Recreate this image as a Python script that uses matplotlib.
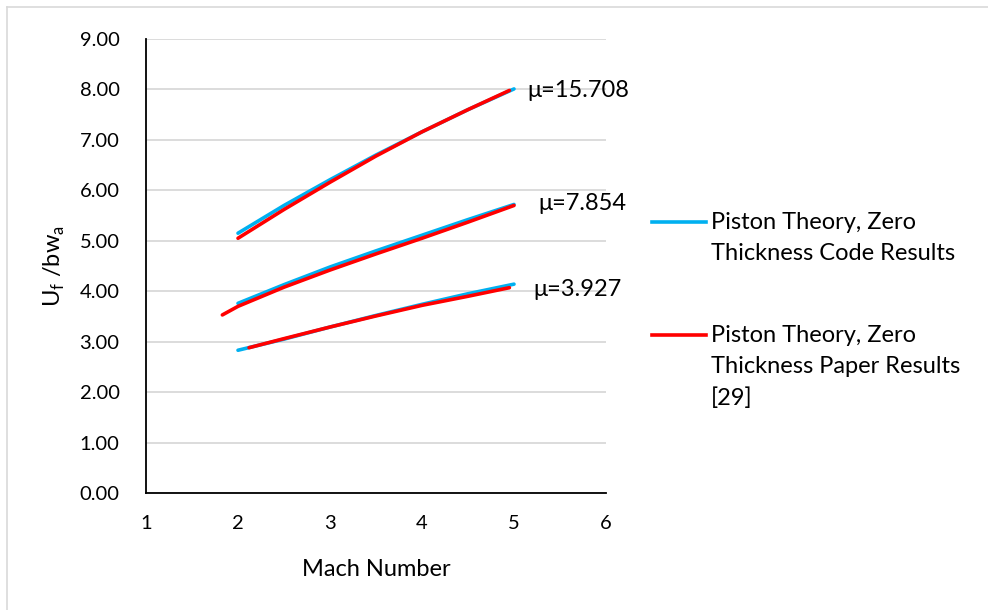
import matplotlib
matplotlib.use('Agg')
import matplotlib.pyplot as plt
from matplotlib.lines import Line2D

plt.rcParams['font.family'] = ['Lato', 'DejaVu Sans']
plt.rcParams['mathtext.fontset'] = 'custom'
plt.rcParams['mathtext.rm'] = 'Lato'

# mu = 15.708
top_code_x = [2, 2.5, 3, 3.5, 4, 4.5, 5]
top_code_y = [5.15, 5.70, 6.21, 6.70, 7.16, 7.60, 8.01]
top_paper_x = [2, 2.5, 3, 3.5, 4, 4.5, 4.95]
top_paper_y = [5.05, 5.62, 6.16, 6.68, 7.16, 7.60, 7.98]
# mu = 7.854
mid_code_x = [2, 2.5, 3, 3.5, 4, 4.5, 5]
mid_code_y = [3.76, 4.13, 4.48, 4.80, 5.11, 5.42, 5.72]
mid_paper_x = [1.83, 2, 2.5, 3, 3.5, 4, 4.5, 5]
mid_paper_y = [3.53, 3.70, 4.08, 4.42, 4.74, 5.05, 5.37, 5.70]
# mu = 3.927
low_code_x = [2, 2.5, 3, 3.5, 4, 4.5, 5]
low_code_y = [2.83, 3.05, 3.29, 3.52, 3.74, 3.95, 4.14]
low_paper_x = [2.12, 2.5, 3, 3.5, 4, 4.5, 4.95]
low_paper_y = [2.88, 3.06, 3.29, 3.51, 3.72, 3.90, 4.07]

mu_labels = ['μ=15.708', 'μ=7.854', 'μ=3.927']
mu_pos = [(5.15, 7.98), (5.26, 5.73), (5.21, 4.03)]

legend_labels = ['Piston Theory, Zero\nThickness Code Results',
                 'Piston Theory, Zero\nThickness Paper Results\n[29]']

blue = '#00B0F0'
red = '#FF0000'

fig = plt.figure(figsize=(9.88, 6.1), dpi=100)
ax = fig.add_axes([146/988, 1-493/610, 460/988, 454/610])

for xs, ys in [(top_code_x, top_code_y), (mid_code_x, mid_code_y), (low_code_x, low_code_y)]:
    ax.plot(xs, ys, color=blue, lw=2.6, solid_capstyle='round', solid_joinstyle='round', zorder=3)
for xs, ys in [(top_paper_x, top_paper_y), (mid_paper_x, mid_paper_y), (low_paper_x, low_paper_y)]:
    ax.plot(xs, ys, color=red, lw=2.6, solid_capstyle='round', solid_joinstyle='round', zorder=4)

for lab, (x, y) in zip(mu_labels, mu_pos):
    ax.text(x, y, lab, fontsize=17, va='center', ha='left')

ax.set_xlim(1, 6)
ax.set_ylim(0, 9)
ax.set_xticks(range(1, 7))
ax.set_yticks(range(0, 10))
ax.set_yticklabels(['%.2f' % v for v in range(0, 10)])
ax.tick_params(length=0, labelsize=14.5)
ax.tick_params(axis='y', pad=19)
ax.tick_params(axis='x', pad=16)
ax.grid(axis='y', color='#D9D9D9', lw=1.3)
ax.set_axisbelow(True)
for s in ['top', 'right']:
    ax.spines[s].set_visible(False)
for s in ['left', 'bottom']:
    ax.spines[s].set_linewidth(1.3)
ax.set_xlabel('Mach Number', fontsize=17, labelpad=19)
ax.set_ylabel(r'U$_\mathrm{f}$ /bw$_\mathrm{a}$', fontsize=17, labelpad=9)

# legend drawn by hand so the key sits on the first text line
for col, lab, ytop in zip([blue, red], legend_labels, [222, 335]):
    yf = 1 - ytop/610
    fig.add_artist(Line2D([652/988, 706/988], [yf, yf], color=col, lw=2.6))
    fig.text(711/988, yf + 10/610, lab, fontsize=17, va='top', ha='left', linespacing=1.6)

# chart area border
fig.add_artist(Line2D([7/988, 1], [1-7/610, 1-7/610], color='#D9D9D9', lw=1.2))
fig.add_artist(Line2D([7/988, 7/988], [0, 1-7/610], color='#D9D9D9', lw=1.2))

fig.savefig('out.png', dpi=100)
